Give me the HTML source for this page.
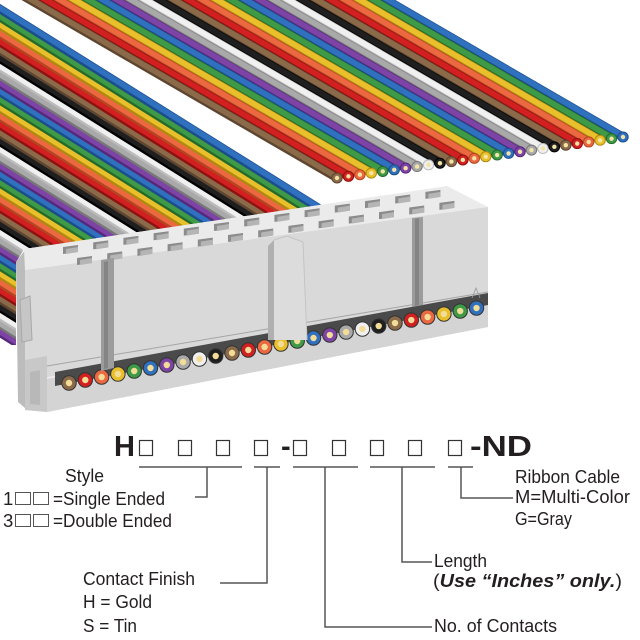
<!DOCTYPE html>
<html><head><meta charset="utf-8"><style>
html,body{margin:0;padding:0;background:#fff;}
svg{display:block;}
text{font-family:"Liberation Sans",Arial,sans-serif;fill:#231f20;}
</style></head><body>
<svg id="s" width="640" height="640" viewBox="0 0 640 640" xmlns="http://www.w3.org/2000/svg">
<defs>
  <clipPath id="cl"><polygon points="-10,-10 640,-10 640,180 447,186 24,249 16,262 16,345 -10,345"/></clipPath>
</defs>
<g id="lower" clip-path="url(#cl)"></g>
<g id="upper"></g>
<g id="conn">
  <polygon points="16,262 25,250 25,408 18,402" fill="#bcbcbc"/>
  <polygon points="24,249 447,186 488,207 25,270" fill="#ebebeb"/>
  <polygon points="25,270 488,207 488,327 47,412 25,410" fill="#d9d9d9"/>
  <polygon points="47,378 488,300 488,327 47,412" fill="#d4d4d4"/>
  <line x1="47" y1="378" x2="488" y2="300" stroke="#eeeeee" stroke-width="1.5"/>
  <polygon points="25,360 47,356 47,412 25,410" fill="#c8c8c8"/>
  <polygon points="30,372 40,370 40,405 30,404" fill="#b8b8b8"/>
  <polygon points="20,300 30,296 32,340 22,342" fill="#c6c6c6" stroke="#a8a8a8" stroke-width="1"/>
  <g id="holes"></g>
  <polygon points="55,372 488,293 488,305 55,386" fill="#4a4a4a"/>
  <line x1="47" y1="366" x2="488" y2="292" stroke="#a5a5a5" stroke-width="1"/>
  <g id="ends"></g>
  <polygon points="101,260 114,258 114,368 101,371" fill="#9c9c9c"/>
  <polygon points="104,262 108,261 108,368 104,369" fill="#848484"/>
  <polygon points="412,218 423,217 423,305 412,307" fill="#9c9c9c"/>
  <polygon points="415,219 419,218 419,305 415,306" fill="#848484"/>
  <polygon points="268,246 274,240 274,340 268,340" fill="#b0b0b0"/>
  <polygon points="274,240 287,236 303,242 307,340 274,340" fill="#dcdcdc"/>
  <polyline points="274,240 287,236 303,242 307,340" fill="none" stroke="#c4c4c4" stroke-width="1"/>
  <polyline points="472,298 476,288 480,298" fill="none" stroke="#999" stroke-width="0.8"/>
</g>

<g>
  <text x="114" y="456" font-size="29" font-weight="bold">H</text>
  <text x="281" y="456" font-size="29" font-weight="bold">-</text>
  <text x="470" y="456" font-size="29" font-weight="bold" textLength="62" lengthAdjust="spacingAndGlyphs">-ND</text>
  <g fill="none" stroke="#333" stroke-width="1.2">
    <rect x="139.5" y="440.5" width="13" height="15"/>
    <rect x="178.5" y="440.5" width="13" height="15"/>
    <rect x="216.5" y="440.5" width="13" height="15"/>
    <rect x="254.5" y="440.5" width="13" height="15"/>
    <rect x="293.5" y="440.5" width="13" height="15"/>
    <rect x="332.5" y="440.5" width="13" height="15"/>
    <rect x="370.5" y="440.5" width="13" height="15"/>
    <rect x="408.5" y="440.5" width="13" height="15"/>
    <rect x="448.5" y="440.5" width="13" height="15"/>
  </g>
  <g fill="none" stroke="#555" stroke-width="1.5">
    <line x1="139" y1="467" x2="242" y2="467"/>
    <line x1="254" y1="467" x2="280" y2="467"/>
    <line x1="293" y1="467" x2="358" y2="467"/>
    <line x1="370" y1="467" x2="435" y2="467"/>
    <line x1="448" y1="467" x2="473" y2="467"/>
    <polyline points="207,467 207,497 195,497"/>
    <polyline points="267,467 267,583 220,583"/>
    <polyline points="325,467 325,627 432,627"/>
    <polyline points="402,467 402,562 432,562"/>
    <polyline points="461,467 461,498 513,498"/>
  </g>
  <g font-size="18.5">
    <text x="65" y="482" textLength="39" lengthAdjust="spacingAndGlyphs">Style</text>
    <text x="3" y="505">1</text>
    <rect x="15.5" y="492.5" width="15" height="12" fill="none" stroke="#555"/>
    <rect x="33.5" y="492.5" width="15" height="12" fill="none" stroke="#555"/>
    <text x="53" y="505" textLength="112" lengthAdjust="spacingAndGlyphs">=Single Ended</text>
    <text x="3" y="527">3</text>
    <rect x="15.5" y="514.5" width="15" height="12" fill="none" stroke="#555"/>
    <rect x="33.5" y="514.5" width="15" height="12" fill="none" stroke="#555"/>
    <text x="53" y="527" textLength="119" lengthAdjust="spacingAndGlyphs">=Double Ended</text>
    <text x="83" y="585" textLength="112" lengthAdjust="spacingAndGlyphs">Contact Finish</text>
    <text x="83" y="608" textLength="69" lengthAdjust="spacingAndGlyphs">H = Gold</text>
    <text x="83" y="632" textLength="54" lengthAdjust="spacingAndGlyphs">S = Tin</text>
    <text x="515" y="483" textLength="105" lengthAdjust="spacingAndGlyphs">Ribbon Cable</text>
    <text x="515" y="503" textLength="115" lengthAdjust="spacingAndGlyphs">M=Multi-Color</text>
    <text x="515" y="525" textLength="57" lengthAdjust="spacingAndGlyphs">G=Gray</text>
    <text x="434" y="567" textLength="53" lengthAdjust="spacingAndGlyphs">Length</text>
    <text x="433" y="587" textLength="189" lengthAdjust="spacingAndGlyphs">(<tspan font-weight="bold" font-style="italic">Use “Inches” only.</tspan>)</text>
    <text x="434" y="632" textLength="123" lengthAdjust="spacingAndGlyphs">No. of Contacts</text>
  </g>
</g>
</svg>
<script>
(function(){
var NS="http://www.w3.org/2000/svg";
var C=["#8b6a4a","#d22020","#ec6840","#e9bf2b","#3e9a46","#2f70bf","#7d44a6","#a9a9a9","#f0f0f0","#1f1f1f"];
var D=["#5e4530","#8e1010","#b24522","#b08a10","#246a2a","#1c4d8a","#55287a","#777","#bcbcbc","#000"];
function el(p,n,a){var e=document.createElementNS(NS,n);for(var k in a)e.setAttribute(k,a[k]);p.appendChild(e);return e;}
var L=document.getElementById("lower");
for(var i=39;i>=0;i--){
  var ci=((5-i)%10+10)%10;
  var y0=9+8.3*i;
  el(L,"line",{x1:-60,y1:y0-37.5,x2:360,y2:y0+225,stroke:D[ci],"stroke-width":8.6});
  el(L,"line",{x1:-60,y1:y0-38.5,x2:360,y2:y0+224,stroke:C[ci],"stroke-width":5.6});
}
var U=document.getElementById("upper");
for(var i=25;i>=0;i--){
  var ci=i%10;
  var ex=337+11.44*i, ey=178-1.64*i, t=700;
  el(U,"line",{x1:ex-t,y1:ey-0.58*t,x2:ex,y2:ey,stroke:D[ci],"stroke-width":8.6});
  el(U,"line",{x1:ex-t,y1:ey-0.58*t-1,x2:ex,y2:ey-1,stroke:C[ci],"stroke-width":5.6});
}
for(var i=0;i<26;i++){
  var ci=i%10;
  var ex=337+11.44*i, ey=178-1.64*i;
  el(U,"ellipse",{cx:ex,cy:ey,rx:5.2,ry:5,fill:C[ci],stroke:D[ci],"stroke-width":1});
  el(U,"circle",{cx:ex,cy:ey,r:2.2,fill:"#f4e3a6"});
}
var H=document.getElementById("holes");
for(var k=0;k<13;k++){
  var bx=63+30.2*k, by=250-0.152*(30.2*k);
  el(H,"polygon",{points:(bx)+","+(by-3)+" "+(bx+15)+","+(by-5)+" "+(bx+15)+","+(by+2)+" "+(bx)+","+(by+4),fill:"#8c8c8c"});
  el(H,"polygon",{points:(bx+3)+","+(by-1)+" "+(bx+15)+","+(by-3)+" "+(bx+15)+","+(by+2)+" "+(bx+3)+","+(by+4),fill:"#b5b5b5"});
  var fx=77+30.2*k, fy=261-0.152*(30.2*k);
  el(H,"polygon",{points:(fx)+","+(fy-3)+" "+(fx+15)+","+(fy-5)+" "+(fx+15)+","+(fy+2)+" "+(fx)+","+(fy+4),fill:"#8c8c8c"});
  el(H,"polygon",{points:(fx+3)+","+(fy-1)+" "+(fx+15)+","+(fy-3)+" "+(fx+15)+","+(fy+2)+" "+(fx+3)+","+(fy+4),fill:"#b5b5b5"});
}
var E=document.getElementById("ends");
for(var i=0;i<26;i++){
  var ci=i%10;
  var x=69+16.3*i, y=383-0.184*(16.3*i);
  el(E,"circle",{cx:x,cy:y,r:7.2,fill:C[ci],stroke:"#333","stroke-width":1});
  el(E,"circle",{cx:x,cy:y,r:3.2,fill:"#f2dc98"});
}
})();
</script>
</body></html>
